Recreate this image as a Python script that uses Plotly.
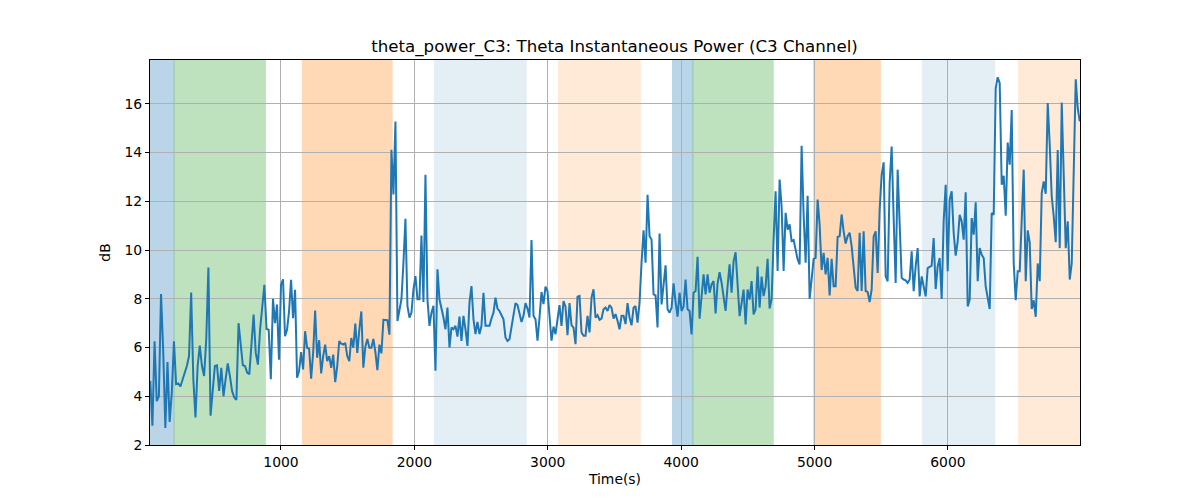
import numpy as np
import plotly.graph_objects as go

# ---- data, in consecutive time segments ----
seg_bounds = [(20, 940), (955, 1813), (1828, 2713), (2728, 3613),
              (3628, 4513), (4528, 5413), (5428, 6163), (6178, 6988)]
seg_values = [
    [4.63, 2.79, 6.26, 3.8, 4.0, 8.2, 5.9, 2.7, 5.4, 2.95, 4.15, 6.26, 4.5, 4.53, 4.4, 4.7, 4.97, 5.24, 5.65, 8.26,
     4.7, 3.13, 5.24, 6.08, 5.24, 4.83, 6.33, 9.28, 3.2, 4.15, 5.24, 5.27, 4.22, 5.17, 4.0, 4.7, 5.35, 4.83, 4.22, 3.95,
     3.85, 7.0, 6.19, 5.27, 5.24, 4.97, 4.9, 6.33, 7.35, 5.78, 5.3, 6.73, 7.62, 8.57, 6.76, 6.73, 4.7, 8.0],
    [7.0, 7.76, 5.5, 8.57, 8.8, 6.46, 6.73, 7.48, 8.78, 7.2, 8.37, 4.76, 5.03, 5.81, 5.1, 6.67, 5.99, 5.95, 4.72, 5.78,
     7.52, 5.58, 6.3, 4.94, 5.65, 6.12, 5.44, 5.65, 5.17, 5.71, 4.58, 5.24, 6.26, 6.16, 6.12, 6.19, 5.65, 5.44, 6.39, 5.99,
     6.98, 5.78, 6.73, 7.48, 5.17, 6.03, 6.35, 5.99, 5.99, 6.35, 5.81, 5.07, 6.12, 5.76, 7.14, 7.12, 7.12, 6.53],
    [14.12, 12.28, 15.28, 7.09, 7.57, 7.98, 9.48, 11.28, 7.71, 7.23, 7.43, 8.39, 8.93, 7.98, 7.98, 10.6, 7.87, 13.09, 7.98, 6.89,
     7.43, 7.71, 5.05, 9.21, 7.98, 7.64, 7.23, 6.75, 7.64, 6.0, 6.82, 6.75, 6.89, 6.45, 7.27, 6.27, 7.3, 6.75, 6.07, 7.84,
     8.52, 7.16, 6.55, 7.05, 6.55, 6.89, 8.25, 6.89, 6.89, 6.89, 7.19, 7.43, 8.05, 7.6, 7.5, 7.32, 7.16, 6.41, 6.27, 6.34],
    [6.82, 7.3, 7.82, 7.74, 7.44, 7.05, 7.3, 7.82, 7.6, 7.23, 10.41, 7.3, 7.16, 6.28, 7.23, 8.28, 7.78, 8.5, 8.32, 7.3,
     6.28, 6.86, 6.55, 7.16, 7.74, 6.89, 7.91, 7.68, 6.51, 7.82, 6.92, 6.82, 6.14, 8.09, 8.12, 6.62, 6.48, 6.48, 7.3, 6.62,
     8.05, 8.39, 7.23, 7.33, 7.14, 7.19, 7.57, 7.64, 7.5, 7.74, 7.64, 7.19, 7.37, 7.1, 6.75, 7.3, 7.3, 6.96, 7.82, 7.23],
    [6.91, 7.63, 7.7, 7.02, 7.84, 9.48, 10.81, 9.48, 12.27, 10.57, 10.43, 8.18, 8.14, 6.82, 10.68, 7.77, 8.73, 9.37, 7.57, 7.43,
     7.63, 8.63, 7.87, 7.27, 8.25, 7.5, 7.68, 8.79, 7.57, 7.5, 6.54, 8.25, 8.32, 9.72, 7.18, 8.18, 9.0, 8.18, 9.0, 8.25,
     8.59, 8.73, 7.4, 8.63, 9.09, 8.66, 8.04, 7.5, 8.52, 9.41, 8.25, 9.54, 9.91, 8.52, 7.29, 7.81, 8.38, 6.95, 8.38, 7.97],
    [8.73, 7.36, 7.57, 9.32, 7.64, 8.91, 8.11, 8.52, 9.64, 7.6, 7.98, 10.43, 12.41, 9.14, 12.89, 11.8, 9.14, 11.53, 10.84, 11.05,
     10.37, 10.41, 9.96, 9.62, 9.41, 14.28, 11.46, 9.48, 12.23, 8.0, 8.8, 9.64, 9.68, 12.07, 11.05, 9.18, 9.89, 9.0, 9.68, 8.14,
     9.64, 8.52, 8.52, 10.54, 10.57, 11.46, 10.77, 10.27, 10.57, 10.71, 10.16, 9.27, 8.46, 8.32, 10.71, 8.32, 10.77, 8.32, 8.28, 7.87],
    [8.38, 10.56, 10.77, 9.06, 11.66, 13.09, 13.6, 8.92, 8.72, 12.75, 14.25, 11.31, 8.65, 13.3, 11.25, 8.86, 8.79, 8.76, 8.65, 8.79,
     9.95, 8.31, 9.33, 10.08, 8.1, 8.92, 8.51, 8.1, 9.26, 9.33, 9.36, 10.49, 8.4, 9.33, 9.67, 7.99, 11.18, 12.68, 9.13, 12.07,
     12.41, 10.7, 9.77, 10.36, 11.45, 11.18, 10.43, 12.37, 7.69, 7.97],
    [11.31, 10.63, 11.96, 8.72, 10.08, 9.81, 9.67, 8.51, 8.04, 7.58, 11.52, 11.45, 16.64, 17.09, 16.85, 12.68, 13.05, 11.41, 14.41, 13.5,
     15.75, 9.47, 7.94, 9.13, 9.13, 11.38, 13.3, 8.72, 10.81, 10.32, 7.58, 7.94, 7.26, 9.45, 8.72, 12.34, 12.82, 12.31, 16.03, 14.32,
     12.2, 11.38, 10.32, 14.11, 10.08, 16.05, 12.61, 10.08, 11.18, 8.79, 9.45, 13.3, 17.01, 15.82, 15.28],
]
times = np.concatenate([np.linspace(a, b, len(v)) for (a, b), v in zip(seg_bounds, seg_values)])
values = np.concatenate([np.array(v) for v in seg_values])
x_min, x_max = 18.0, 6990.0

span_starts = [18, 198, 1160, 2150, 3081, 3935, 4088, 4993, 5808, 6530]
span_ends = [198, 883, 1833, 2838, 3693, 4088, 4690, 5493, 6350, 6990]
span_colors = ["#1f77b4", "#2ca02c", "#ff7f0e", "#1f77b4", "#ff7f0e",
               "#1f77b4", "#2ca02c", "#ff7f0e", "#1f77b4", "#ff7f0e"]
span_alphas = [0.3, 0.3, 0.3, 0.12, 0.16, 0.3, 0.3, 0.3, 0.12, 0.16]

y_ticks = [2, 4, 6, 8, 10, 12, 14, 16]
x_ticks = [1000, 2000, 3000, 4000, 5000, 6000]

fig = go.Figure()
fig.add_trace(go.Scatter(x=times, y=values, mode="lines",
                         line=dict(color="#1f77b4", width=2), showlegend=False))

for s, e, c, a in zip(span_starts, span_ends, span_colors, span_alphas):
    fig.add_shape(type="rect", xref="x", yref="paper", x0=s, x1=e, y0=0, y1=1,
                  fillcolor=c, opacity=a, line=dict(color=c, width=1), layer="below")

font = "DejaVu Sans, Liberation Sans, sans-serif"
axis_common = dict(showline=True, linecolor="black", linewidth=1, mirror=True,
                   ticks="outside", ticklen=4, tickcolor="black", tickwidth=1,
                   showgrid=True, gridcolor="#b0b0b0", gridwidth=1, zeroline=False,
                   tickfont=dict(size=13.9, color="black", family=font))

fig.update_layout(
    width=1200, height=500,
    margin=dict(l=142, r=128, t=52, b=63),
    plot_bgcolor="white", paper_bgcolor="white",
    font=dict(family=font, color="black"),
    title=dict(text="theta_power_C3: Theta Instantaneous Power (C3 Channel)",
               x=0.5054, xanchor="center", xref="container",
               y=0.912, yanchor="bottom", yref="container",
               font=dict(size=16.67, color="black", family=font)),
)
fig.update_xaxes(range=[x_min, x_max], tickvals=x_ticks,
                 title=dict(text="Time(s)", font=dict(size=13.9), standoff=5), **axis_common)
fig.update_yaxes(range=[2, 17.8], tickvals=y_ticks,
                 title=dict(text="dB", font=dict(size=13.9), standoff=10), **axis_common)

fig.write_html("out.html")
